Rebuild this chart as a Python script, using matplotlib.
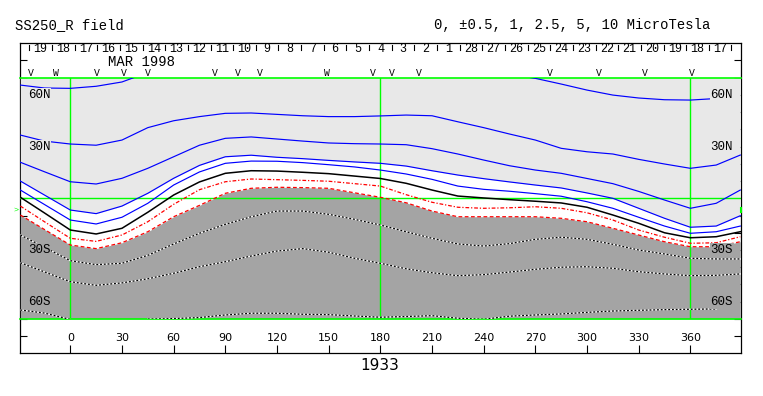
import numpy as np
import matplotlib
matplotlib.use("Agg")
import matplotlib.pyplot as plt

nan = np.nan

# ---------------- data ----------------
lon = [-29, -15, 0, 15, 30, 45, 60, 75, 90, 105, 120, 135, 150, 165, 180,
       195, 210, 225, 240, 255, 270, 285, 300, 315, 330, 345, 360, 375, 389]

levels = [10, 5, 2.5, 1, 0.5, 0, -0.5, -1, -2.5, -5, -10]  # MicroTesla

lat_p10 = [65.7, 64.0, 63.8, 65.0, 67.5, 73.0, nan, nan, nan, nan, nan, nan, nan, nan, nan,
           nan, nan, nan, nan, 72.0, 69.6, 66.3, 62.8, 59.9, 58.2, 57.2, 57.0, 57.9, nan]
lat_p5 = [36.7, 33.2, 31.5, 30.8, 33.8, 41.0, 45.0, 47.4, 49.3, 49.5, 48.7, 47.9, 47.4, 47.4, 47.8,
          48.3, 47.9, 44.4, 41.0, 37.3, 33.8, 29.0, 27.0, 25.7, 22.6, 19.9, 17.4, 19.3, 25.1]
lat_p2_5 = [20.9, 15.4, 9.6, 8.3, 11.6, 17.4, 24.1, 30.8, 34.8, 35.6, 34.4, 33.2, 32.1, 31.7, 31.5,
            31.1, 28.8, 25.7, 22.2, 18.9, 16.4, 14.5, 11.5, 8.5, 4.0, -1.0, -5.8, -2.9, 4.8]
lat_p1 = [10.0, 1.9, -6.8, -8.9, -4.5, 2.9, 11.6, 19.1, 24.1, 25.0, 23.8, 23.0, 22.0, 21.1, 20.3,
          18.7, 16.0, 13.5, 11.4, 9.5, 7.7, 6.0, 3.1, 0.0, -5.8, -11.6, -16.8, -16.1, -10.1]
lat_p0_5 = [4.8, -3.6, -12.6, -14.9, -11.0, -2.9, 7.7, 15.3, 20.3, 21.6, 21.5, 20.7, 19.5, 18.2, 16.4,
            14.1, 11.0, 7.1, 5.2, 4.1, 2.7, 1.2, -2.0, -5.8, -11.0, -16.1, -20.3, -19.4, -16.1]
lat_0 = [0.6, -8.5, -18.4, -20.7, -17.4, -8.1, 1.9, 9.5, 14.5, 16.0, 15.8, 15.1, 14.3, 12.9, 11.5,
         8.7, 4.8, 1.3, 0.2, -0.8, -1.7, -2.7, -5.2, -9.7, -14.5, -20.0, -22.9, -22.3, -19.4]
lat_m0_5 = [-4.5, -13.6, -23.2, -25.0, -21.3, -13.6, -3.5, 5.0, 9.6, 11.2, 10.8, 10.4, 9.9, 8.5, 7.1,
            2.1, -2.3, -5.2, -5.8, -5.5, -4.9, -5.8, -8.4, -12.6, -18.4, -22.6, -26.1, -25.8, -22.3]
lat_m1 = [-9.7, -18.1, -27.1, -29.2, -25.8, -19.4, -10.7, -4.1, 2.9, 5.8, 6.4, 6.2, 5.8, 3.2, 0.6,
          -2.6, -7.4, -10.7, -10.7, -10.7, -10.7, -11.6, -13.6, -17.4, -21.3, -25.2, -28.1, -28.1, -25.2]
lat_m2_5 = [-21.3, -28.4, -36.2, -38.5, -37.7, -33.1, -26.5, -20.3, -15.1, -10.7, -7.4, -7.4, -9.3, -12.2, -15.5,
            -19.4, -23.2, -26.5, -27.7, -26.3, -23.8, -22.6, -23.8, -26.7, -30.0, -32.3, -34.8, -35.2, -35.2]
lat_m5 = [-37.4, -42.7, -48.4, -50.5, -49.1, -46.7, -43.5, -39.7, -36.8, -33.5, -30.6, -29.2, -31.3, -34.8, -37.7,
          -40.9, -43.2, -44.9, -44.3, -42.8, -41.2, -40.0, -39.7, -40.6, -42.6, -43.9, -44.9, -44.7, -43.9]
lat_m10 = [-64.8, -66.6, -70.3, nan, nan, -70.1, -69.8, -69.2, -67.7, -66.7, -66.7, -67.3, -67.5, -68.3, -69.0,
           -68.6, -68.1, -69.6, -70.2, -68.4, -67.7, -67.1, -66.2, -65.4, -65.0, -64.6, -64.4, -64.2, nan]

contour_lats = [lat_p10, lat_p5, lat_p2_5, lat_p1, lat_p0_5, lat_0,
                lat_m0_5, lat_m1, lat_m2_5, lat_m5, lat_m10]

lon_ticks = [0, 30, 60, 90, 120, 150, 180, 210, 240, 270, 300, 330, 360]
lat_labels = [60, 30, -30, -60]
day_labels = [19, 18, 17, 16, 15, 14, 13, 12, 11, 10, 9, 8, 7, 6, 5, 4, 3, 2, 1,
              28, 27, 26, 25, 24, 23, 22, 21, 20, 19, 18, 17]
day_first_lon = -17.2
day_step = 13.15
marker_lon = [-22.8, -8.3, 15.5, 31.2, 45.1, 84.0, 97.4, 110.2, 149.1, 175.7,
              186.6, 202.4, 278.5, 307.0, 333.7, 361.0]
marker_char = ["V", "W", "V", "V", "V", "V", "V", "V", "W", "V",
               "V", "V", "V", "V", "V", "V"]
green_lons = [0, 180, 360]
b0_angle = -7.0
rotation = "1933"
month_label = "MAR 1998"
month_lon = 41.6

# ---------------- styling ----------------
LIGHT = "#e8e8e8"
DARK = "#a4a4a4"
GREEN = "#00ff00"
MONO = "Liberation Mono"
SANS = "DejaVu Sans"

W, H = 763, 396
fig = plt.figure(figsize=(W / 100, H / 100), dpi=100)

xmin, xmax = -29.2, 389.4
L = 20 / W
R = 741 / W
T = 1 - 43.2 / H
B = 1 - 353.4 / H
ax = fig.add_axes([L, B, R - L, T - B])
ax.set_xlim(xmin, xmax)
ax.set_ylim(-90, 90)
for s in ax.spines.values():
    s.set_linewidth(0.9)
    s.set_color("black")
ax.set_yticks(range(-80, 90, 10))
ax.set_xticks(lon_ticks)
ax.tick_params(axis="y", direction="in", length=5, width=0.8, left=True, right=True,
               labelleft=False, labelright=False)
ax.tick_params(axis="x", direction="in", length=5.8, width=0.8, bottom=True, top=False,
               labelbottom=False)

# inner map axes (-70..70)
hh = T - B
ax2 = fig.add_axes([L, B + hh * 20 / 180, R - L, hh * 140 / 180])
ax2.set_xlim(xmin, xmax)
ax2.set_ylim(-70, 70)
ax2.axis("off")
ax2.patch.set_alpha(0)

lon_a = np.array(lon, dtype=float)
ax2.fill_between(lon_a, np.array(lat_p1), 70, color=LIGHT, lw=0, zorder=1)
ax2.fill_between(lon_a, -70, np.array(lat_m1), color=DARK, lw=0, zorder=1)

# green grid
ax2.axhline(0, color=GREEN, lw=1.0, zorder=2)
for g in green_lons:
    ax2.axvline(g, color=GREEN, lw=1.0, zorder=2)
ax2.plot([xmin, xmax], [70, 70], color=GREEN, lw=1.2, zorder=2, clip_on=False)
ax2.plot([xmin, xmax], [-70, -70], color=GREEN, lw=1.2, zorder=2, clip_on=False)

# contours
for lev, la in zip(levels, contour_lats):
    la = np.array(la, dtype=float)
    if lev > 0:
        ax2.plot(lon_a, la, color="#0000ff", lw=0.85, zorder=3)
    elif lev == 0:
        ax2.plot(lon_a, la, color="black", lw=1.1, zorder=3)
    elif lev == -0.5:
        ax2.plot(lon_a, la, color="#ff0000", lw=0.9, dashes=(3, 1.5, 1, 1.5), zorder=3)
    elif lev == -1:
        ax2.plot(lon_a, la, color="#ff0000", lw=0.9, dashes=(3, 2), zorder=3)
    else:
        ax2.plot(lon_a, la, color="white", lw=0.9, zorder=3)
        ax2.plot(lon_a, la, color="black", lw=0.9, dashes=(1.5, 1.5), zorder=3)

# latitude labels
dx = 8 / 1.7222
for lt in lat_labels:
    txt = f"{abs(lt)}{'N' if lt > 0 else 'S'}"
    fc = LIGHT if lt > 0 else DARK
    for xpos, ha in ((xmin + dx, "left"), (xmax - dx, "right")):
        ax2.text(xpos, lt, txt, ha=ha, va="center", fontsize=9, family=MONO, zorder=5,
                 bbox=dict(facecolor=fc, edgecolor="none", pad=0.6))

# B0 markers
ax2.text(xmin - 1.0, b0_angle, ">", ha="right", va="center", color=GREEN,
         fontsize=6, family=MONO, clip_on=False)
ax2.plot([xmax, xmax], [b0_angle - 1.2, b0_angle + 1.2], color=GREEN, lw=1.5,
         clip_on=False, zorder=6)

# longitude labels
for lt in lon_ticks:
    ax.text(lt, -80.9, str(lt), ha="center", va="center", fontsize=8, family=SANS)

# day labels and separators
for k, d in enumerate(day_labels):
    ax.text(day_first_lon + day_step * k, 86.4, str(d), ha="center", va="center",
            fontsize=8.5, family=MONO)
for k in range(len(day_labels) + 1):
    xl = day_first_lon - day_step / 2 + day_step * k
    ax.plot([xl, xl], [89.0, 86.0], color="black", lw=0.8)

ax.text(month_lon, 79.1, month_label, ha="center", va="center", fontsize=10, family=MONO)

for ml, mc in zip(marker_lon, marker_char):
    ax.text(ml, 72.8, mc, ha="center", va="center", fontsize=7, family=MONO)

# titles
fig.text(15 / W, 1 - 25 / H, "SS250_R field", ha="left", va="center", fontsize=10, family=MONO)
fig.text(572 / W, 1 - 25 / H, "0, \u00b10.5, 1, 2.5, 5, 10 MicroTesla", ha="center",
         va="center", fontsize=10, family=MONO)
fig.text(380 / W, 1 - 366 / H, rotation, ha="center", va="center", fontsize=11, family=SANS)

fig.savefig("out.png", dpi=100)
